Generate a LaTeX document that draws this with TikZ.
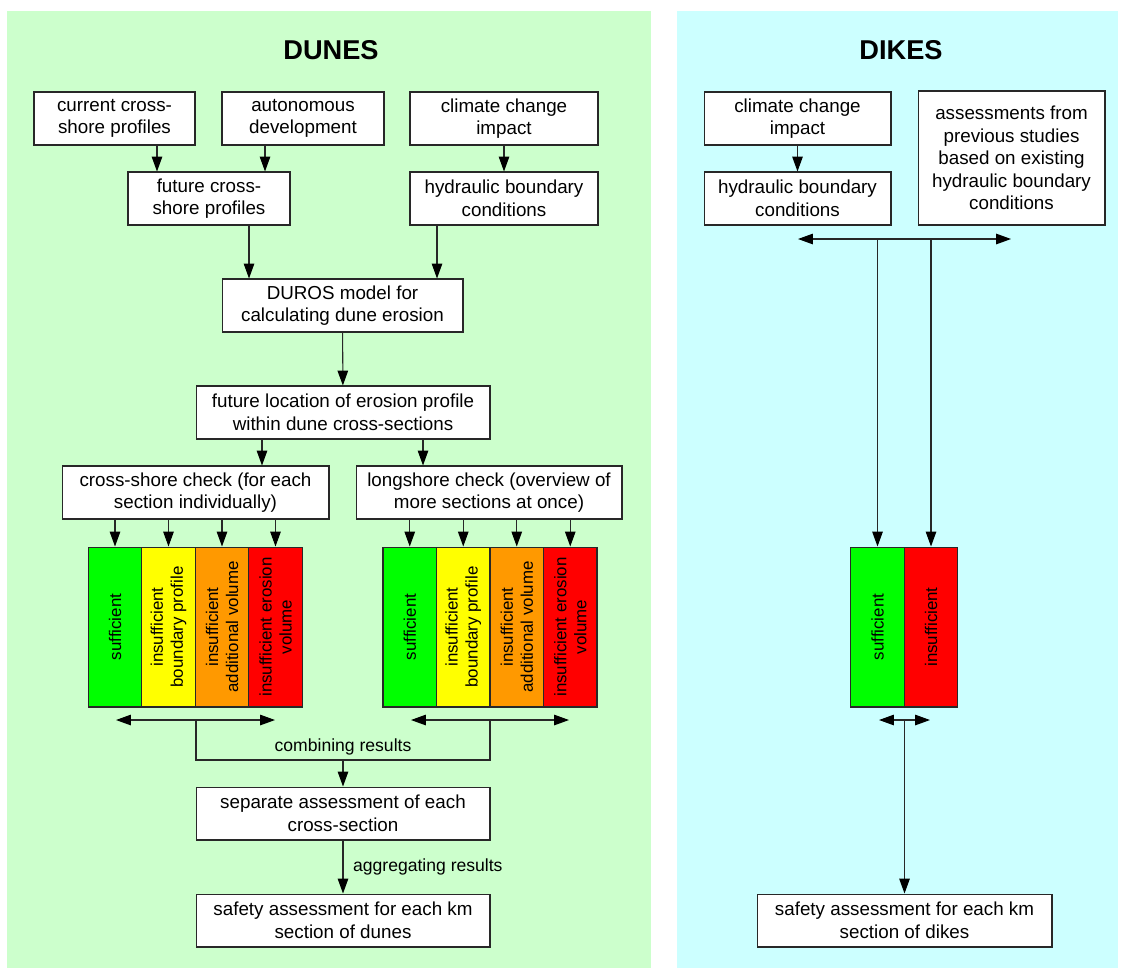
\documentclass[tikz,border=0pt]{standalone}
\usepackage{fontspec}
\setmainfont{Liberation Sans}
\usepackage{xcolor}
\usetikzlibrary{arrows.meta}
\definecolor{dunegreen}{RGB}{204, 255, 204}
\definecolor{dikecyan}{RGB}{204, 255, 255}
\definecolor{linegray}{RGB}{40, 40, 40}
\definecolor{okgreen}{RGB}{0, 255, 0}
\definecolor{warnyellow}{RGB}{255, 255, 0}
\definecolor{warnorange}{RGB}{255, 153, 0}
\definecolor{failred}{RGB}{255, 0, 0}

\tikzset{
  box/.style={draw=linegray, line width=0.6pt, fill=white, align=center, inner sep=1pt,
    minimum height=1.06cm, font=\fontsize{10.7}{12.8}\selectfont},
  cell/.style={draw=linegray, line width=0.6pt, rotate=90, align=center, inner sep=1pt,
    minimum width=3.2cm, minimum height=1.07cm, font=\fontsize{9.6}{11.4}\selectfont},
  arr/.style={draw=linegray, line width=0.6pt, -{Triangle[length=8.5pt,width=6pt,color=black]}},
  dblarr/.style={draw=linegray, line width=0.6pt,
    {Triangle[length=8.5pt,width=6pt,color=black]}-{Triangle[length=8.5pt,width=6pt,color=black]}},
  conn/.style={draw=linegray, line width=0.6pt},
  paneltitle/.style={font=\fontsize{15.5}{18}\selectfont\bfseries},
  lbl/.style={font=\fontsize{10}{12}\selectfont, inner sep=1pt},
}

\begin{document}
\begin{tikzpicture}[x=0.02cm, y=-0.02cm]
\useasboundingbox (0,0) rectangle (1121,968);

% panels
\fill[dunegreen] (7,11) rectangle (651,968);
\fill[dikecyan] (677,11) rectangle (1118,968);

\node[paneltitle] (dunestitle) at (331,50) {DUNES};
\node[paneltitle] (dikestitle) at (901,50) {DIKES};

% dunes: inputs
\node[box, minimum width=3.22cm] (curprof) at (114.5,118.5) {current cross-\\shore profiles};
\node[box, minimum width=3.24cm] (autdev) at (303,118.5) {autonomous\\development};
\node[box, minimum width=3.76cm] (climate) at (504,118.5) {climate change\\impact};
\node[box, minimum width=3.24cm] (futprof) at (209,198.5) {future cross-\\shore profiles};
\node[box, minimum width=3.76cm] (hydbc) at (504,198.5) {hydraulic boundary\\conditions};

\draw[arr] (157,0 |- curprof.south) -- (157,0 |- futprof.north);
\draw[arr] (265,0 |- autdev.south) -- (265,0 |- futprof.north);
\draw[arr] (climate) -- (hydbc);

% dunes: model
\node[box, minimum width=4.82cm] (duros) at (342.5,305.5) {DUROS model for\\calculating dune erosion};
\node[box, minimum width=5.88cm] (location) at (343,412.5) {future location of erosion profile\\within dune cross-sections};

\draw[arr] (249,0 |- futprof.south) -- (249,0 |- duros.north);
\draw[arr] (437,0 |- hydbc.south) -- (437,0 |- duros.north);
\draw[arr] (duros) -- (location);

% dunes: checks
\node[box, minimum width=5.34cm] (crosscheck) at (195.5,492.5) {cross-shore check (for each\\section individually)};
\node[box, minimum width=5.32cm] (longcheck) at (489,492.5) {longshore check (overview of\\more sections at once)};

\draw[arr] (262,0 |- location.south) -- (262,0 |- crosscheck.north);
\draw[arr] (423,0 |- location.south) -- (423,0 |- longcheck.north);

% dunes: results of cross-shore check
\node[cell, fill=okgreen] (cs1) at (115,627) {sufficient};
\node[cell, fill=warnyellow] (cs2) at (168.5,627) {insufficient\\boundary profile};
\node[cell, fill=warnorange] (cs3) at (222,627) {insufficient\\additional volume};
\node[cell, fill=failred] (cs4) at (275.5,627) {insufficient erosion\\volume};

% dunes: results of longshore check
\node[cell, fill=okgreen] (ls1) at (409.75,627) {sufficient};
\node[cell, fill=warnyellow] (ls2) at (463.25,627) {insufficient\\boundary profile};
\node[cell, fill=warnorange] (ls3) at (516.75,627) {insufficient\\additional volume};
\node[cell, fill=failred] (ls4) at (570.25,627) {insufficient erosion\\volume};

\foreach \c in {cs1,cs2,cs3,cs4}
  \draw[arr] (\c.east |- crosscheck.south) -- (\c.east);
\foreach \c in {ls1,ls2,ls3,ls4}
  \draw[arr] (\c.east |- longcheck.south) -- (\c.east);

% combining results
\coordinate (csleft) at (116,720);
\coordinate (csright) at (275,720);
\coordinate (csmid) at (196,720);
\coordinate (lsleft) at (411,720);
\coordinate (lsright) at (569,720);
\coordinate (lsmid) at (490,720);
\coordinate (csfoot) at (196,760);
\coordinate (lsfoot) at (490,760);

\draw[dblarr] (csleft) -- (csright);
\draw[dblarr] (lsleft) -- (lsright);
\draw[conn] (csmid) -- (csfoot) -- (lsfoot) -- (lsmid);
\node[lbl] (combining) at (343,747) {combining results};

\node[box, minimum width=5.88cm] (separate) at (343,813.5) {separate assessment of each\\cross-section};
\node[box, minimum width=5.88cm] (safedunes) at (343,920.5) {safety assessment for each km\\section of dunes};

\draw[arr] (separate.north |- csfoot) -- (separate.north);
\draw[arr] (separate) -- (safedunes);
\node[lbl, anchor=west] (aggregating) at (351,867) {aggregating results};

% dikes
\node[box, minimum width=3.74cm] (dclimate) at (797.5,118.5) {climate change\\impact};
\node[box, minimum width=3.74cm] (dhydbc) at (797.5,198.5) {hydraulic boundary\\conditions};
\node[box, minimum width=3.74cm, minimum height=2.68cm] (previous) at (1011.5,158) {assessments from\\previous studies\\based on existing\\hydraulic boundary\\conditions};

\draw[arr] (dclimate) -- (dhydbc);

\coordinate (dinleft) at (798,239);
\coordinate (dinright) at (1011,239);
\draw[dblarr] (dinleft) -- (dinright);

\node[cell, fill=okgreen] (dk1) at (877.5,627) {sufficient};
\node[cell, fill=failred] (dk2) at (931,627) {insufficient};

\draw[arr] (dk1.east |- dinleft) -- (dk1.east);
\draw[arr] (dk2.east |- dinleft) -- (dk2.east);

\coordinate (doutleft) at (879,720);
\coordinate (doutright) at (930,720);
\draw[dblarr] (doutleft) -- (doutright);

\node[box, minimum width=5.9cm] (safedikes) at (904.5,920.5) {safety assessment for each km\\section of dikes};
\draw[arr] (safedikes.north |- doutleft) -- (safedikes.north);
\end{tikzpicture}
\end{document}
